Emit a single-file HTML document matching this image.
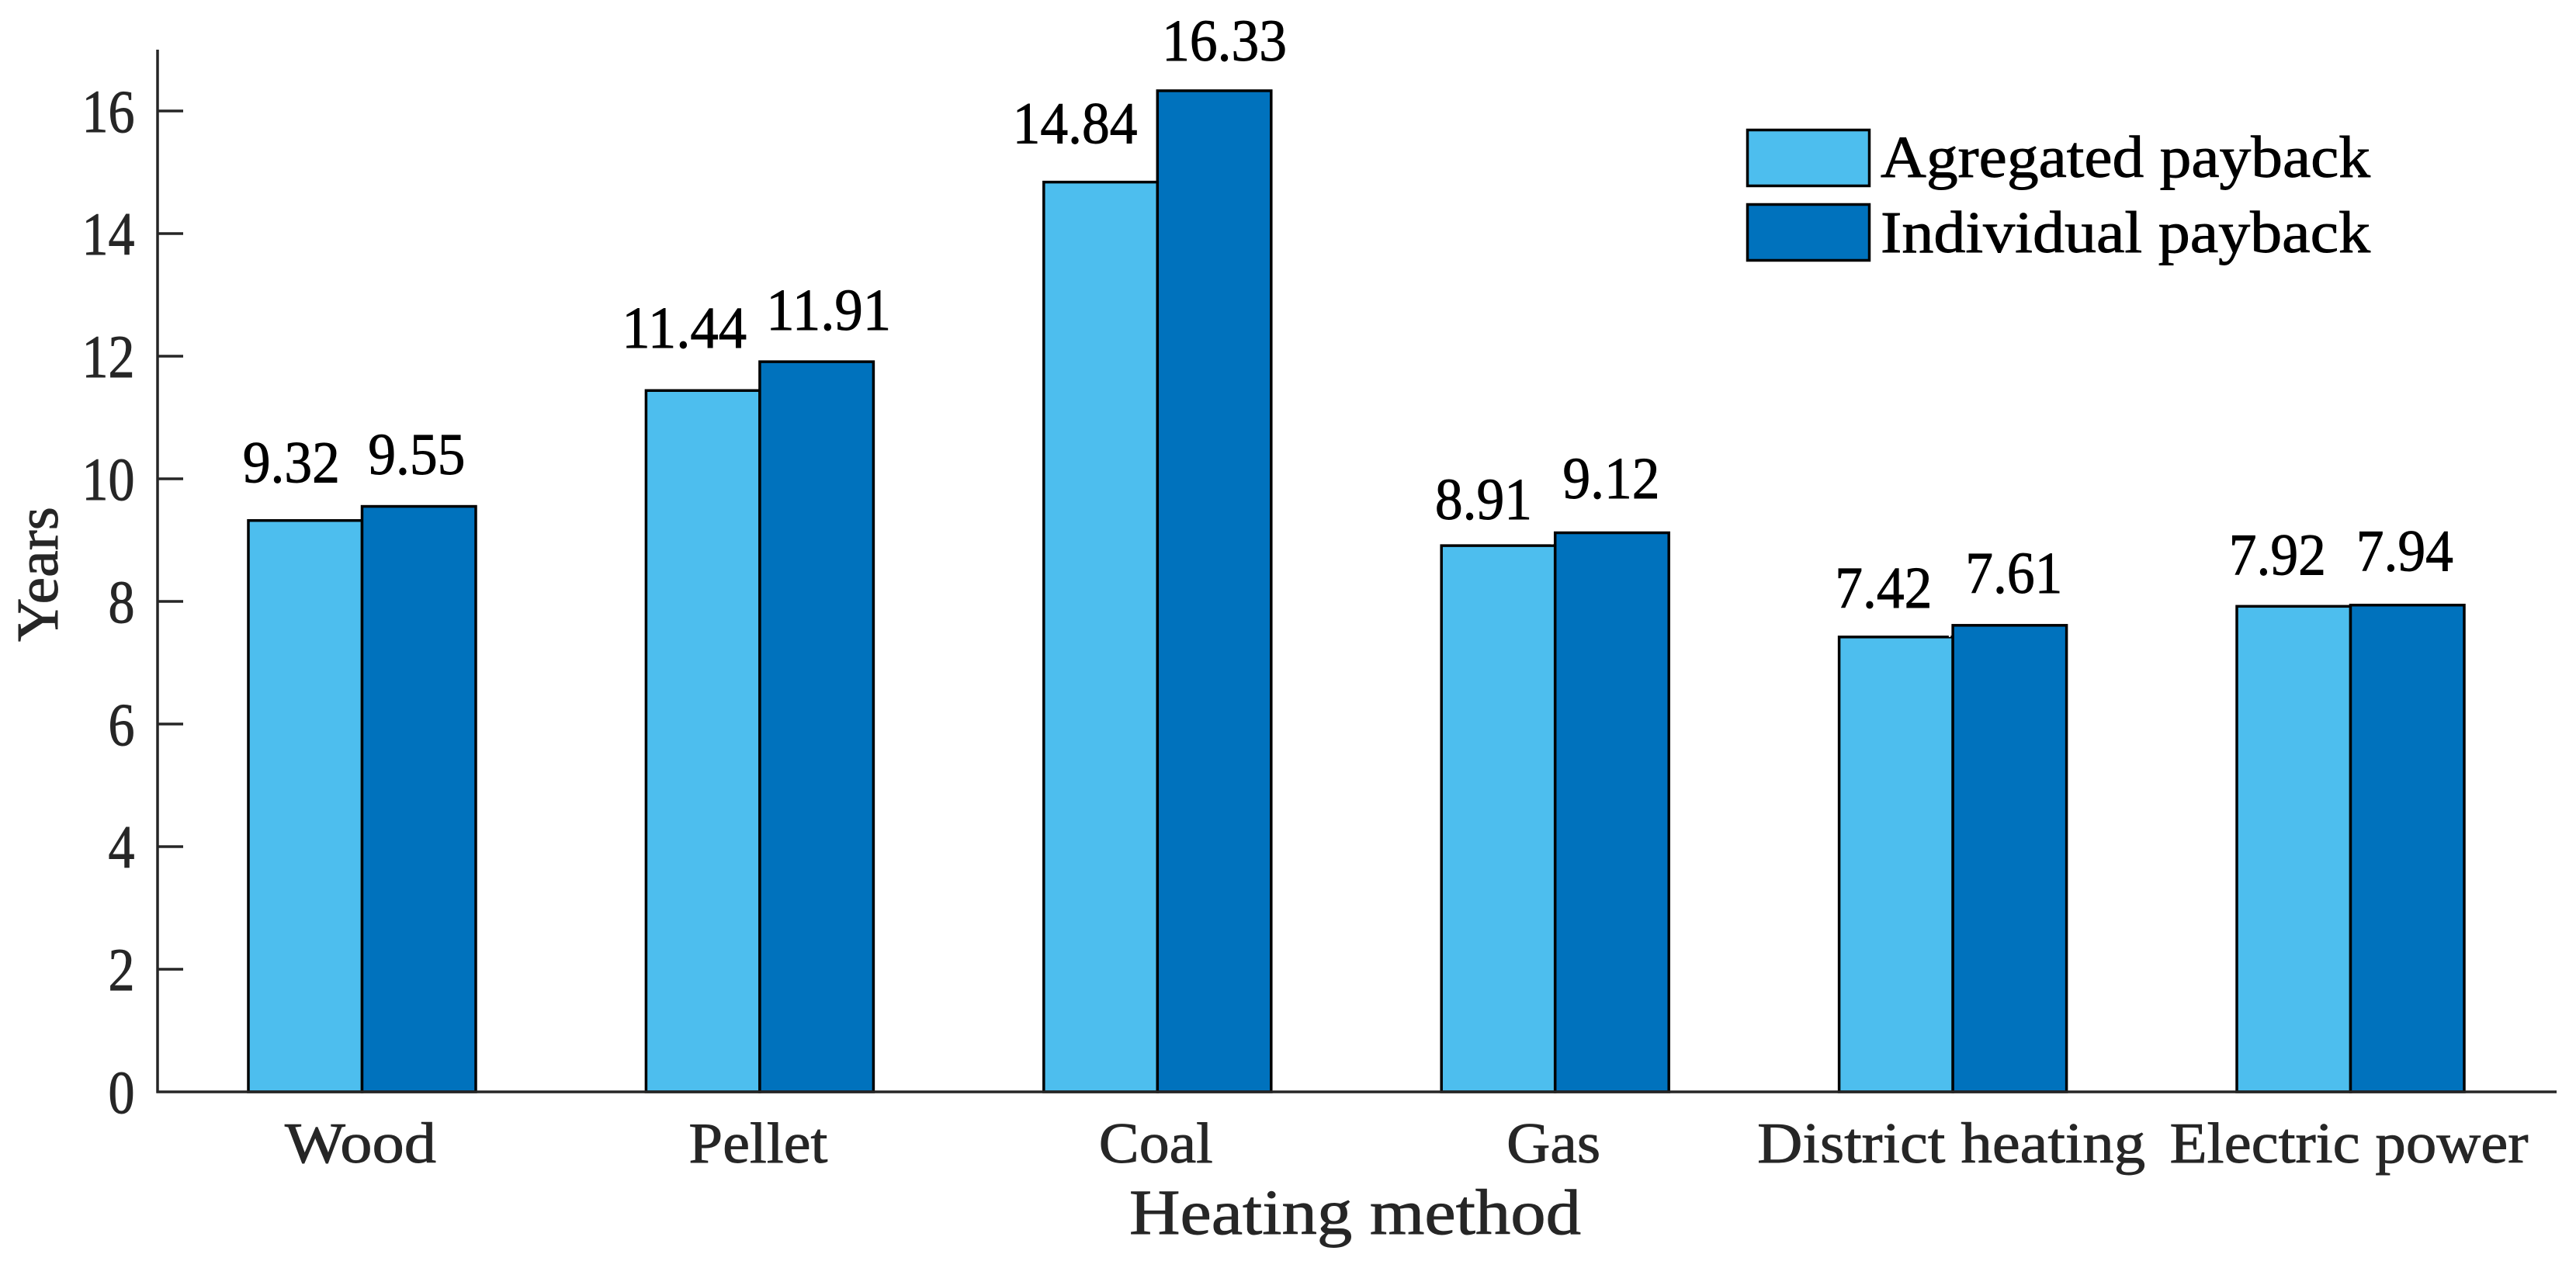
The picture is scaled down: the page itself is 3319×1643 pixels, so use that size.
<!DOCTYPE html>
<html lang="en">
<head>
<meta charset="utf-8">
<title>Payback by heating method</title>
<style>
  html, body { margin: 0; padding: 0; background: #ffffff; }
  svg { display: block; }
  text { font-family: "Liberation Serif", serif; }
  .axis-text { fill: #262626; stroke: #262626; stroke-width: 0.9; }
  .ink-text { fill: #000000; stroke: #000000; stroke-width: 0.9; }
</style>
</head>
<body>
<svg id="chart" xmlns="http://www.w3.org/2000/svg" width="3319" height="1643" viewBox="0 0 3319 1643">
  <rect x="0" y="0" width="3319" height="1643" fill="#ffffff"/>
  <g id="bars"></g>
  <g id="axes"></g>
  <g id="value-labels"></g>
  <text class="axis-text" transform="translate(74,827) rotate(-90)" font-size="76" textLength="174" lengthAdjust="spacingAndGlyphs">Years</text>
  <text class="axis-text" x="1455" y="1590" font-size="83" textLength="582" lengthAdjust="spacingAndGlyphs">Heating method</text>
  <g>
    <g>
      <rect x="2251.5" y="167.5" width="157" height="72" fill="#4DBEEE" stroke="#000" stroke-width="3.5"/>
      <text class="ink-text" x="2423" y="228" font-size="76" textLength="631" lengthAdjust="spacingAndGlyphs">Agregated payback</text>
    </g>
    <g>
      <rect x="2251.5" y="263.5" width="157" height="72" fill="#0072BD" stroke="#000" stroke-width="3.5"/>
      <text class="ink-text" x="2423" y="325" font-size="76" textLength="631" lengthAdjust="spacingAndGlyphs">Individual payback</text>
    </g>
  </g>
</svg>
<script>
const categories = ["Wood", "Pellet", "Coal", "Gas", "District heating", "Electric power"];
const aggregatedPayback = [9.32, 11.44, 14.84, 8.91, 7.42, 7.92];
const individualPayback = [9.55, 11.91, 16.33, 9.12, 7.61, 7.94];
const yTickValues = [0, 2, 4, 6, 8, 10, 12, 14, 16];

/* Layout only: hand placement of annotations, not data. */
const categoryLabelWidth = { "Wood": 195, "Pellet": 179, "Coal": 147, "Gas": 121, "District heating": 500, "Electric power": 462 };
const aggregatedNudge = [[-18, -49], [-24, -55], [-33, -50], [-19, -34], [-16, -38], [-21, -41]];
const individualNudge = [[-3, -41.5], [15.5, -41], [13, -39], [-1, -44.5], [5.5, -42], [-3.5, -44]];
const stepSpeckGroups = [0, 3, 4];

const NS = "http://www.w3.org/2000/svg";
const axisLeft = 203, axisRight = 3294, axisBottom = 1407;
const yMax = 17, pxPerYear = 79, groupFirst = 466.5, groupPitch = 512.4, barWidth = 146.5;

function yScale(v) { return axisBottom - v * pxPerYear; }
function xScale(i) { return groupFirst + groupPitch * i; }
function make(tag, attrs, parent) {
  const el = document.createElementNS(NS, tag);
  for (const k in attrs) el.setAttribute(k, attrs[k]);
  parent.appendChild(el);
  return el;
}

const barsLayer = document.getElementById("bars");
const axesLayer = document.getElementById("axes");
const labelsLayer = document.getElementById("value-labels");

function drawSeries(values, nudges, side, fill, key) {
  values.forEach(function (v, i) {
    const x = side < 0 ? xScale(i) - barWidth : xScale(i);
    const bar = make("rect", { x: x, y: yScale(v), width: barWidth, height: axisBottom - yScale(v), fill: fill, stroke: "#000", "stroke-width": 3.5 }, barsLayer);
    
    

    const txt = v.toFixed(2);
    const label = make("text", {
      x: x + barWidth / 2 + nudges[i][0],
      y: yScale(v) + nudges[i][1],
      "text-anchor": "middle",
      "font-size": 76,
      "class": "ink-text",
      textLength: ((txt.length - 1) * 0.5 + 0.25) * 71.5,
      lengthAdjust: "spacingAndGlyphs"
    }, labelsLayer);
    label.textContent = txt;
    
    
  });
}
drawSeries(aggregatedPayback, aggregatedNudge, -1, "#4DBEEE", "agregated");
drawSeries(individualPayback, individualNudge, 1, "#0072BD", "individual");

stepSpeckGroups.forEach(function (i) {
  const top = yScale(individualPayback[i]) - 2;
  const span = Math.min(yScale(aggregatedPayback[i]) - top, 17);
  const speck = make("line", { x1: xScale(i) - 4, x2: xScale(i) - 4, y1: top, y2: top + span, stroke: "#ffffff", "stroke-width": 2.5 }, barsLayer);
  
  
});

const yAxisLine = make("line", { x1: axisLeft, x2: axisLeft, y1: yScale(yMax), y2: axisBottom + 1.5, stroke: "#262626", "stroke-width": 3.5 }, axesLayer);



const xAxisLine = make("line", { x1: axisLeft - 1.5, x2: axisRight, y1: axisBottom, y2: axisBottom, stroke: "#262626", "stroke-width": 3.5 }, axesLayer);



yTickValues.forEach(function (t) {
  if (t > 0) {
    const tick = make("line", { x1: axisLeft, x2: axisLeft + 33, y1: yScale(t), y2: yScale(t), stroke: "#262626", "stroke-width": 3.5 }, axesLayer);
    
    
  }
  const s = String(t);
  const tl = make("text", {
    x: 173.5,
    y: yScale(t) + 27,
    "text-anchor": "end",
    "font-size": 78,
    "class": "axis-text",
    textLength: s.length * 34,
    lengthAdjust: "spacingAndGlyphs"
  }, axesLayer);
  tl.textContent = s;
  
  
});

categories.forEach(function (c, i) {
  const cl = make("text", {
    x: xScale(i) - 2,
    y: 1498,
    "text-anchor": "middle",
    "font-size": 74,
    "class": "axis-text",
    textLength: categoryLabelWidth[c],
    lengthAdjust: "spacingAndGlyphs"
  }, axesLayer);
  cl.textContent = c;
  
  
});
</script>
</body>
</html>
